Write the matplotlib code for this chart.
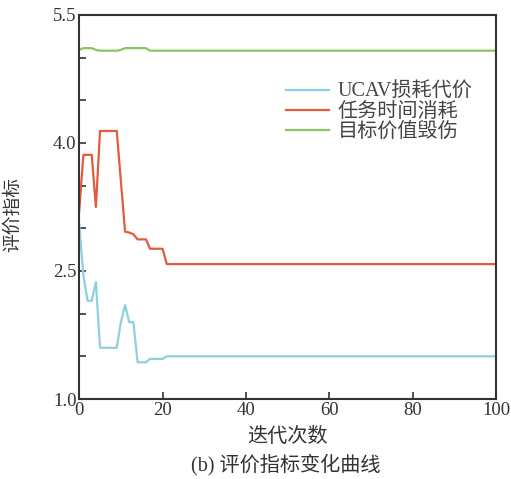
import matplotlib
matplotlib.use("Agg")
import matplotlib.pyplot as plt
import numpy as np

plt.rcParams['font.family'] = ['Liberation Serif', 'Noto Sans CJK SC']

iters = list(range(0, 101))
# UCAV loss cost (blue)
blue_head = [3.05, 2.45, 2.15, 2.15, 2.37, 1.60, 1.60, 1.60, 1.60, 1.60,
             1.90, 2.10, 1.90, 1.90, 1.43, 1.43, 1.43, 1.47, 1.47, 1.47, 1.47]
blue_tail_value = 1.50
# mission time consumption (red)
red_head = [3.20, 3.86, 3.86, 3.86, 3.25, 4.14, 4.14, 4.14, 4.14, 4.14,
            3.55, 2.96, 2.95, 2.93, 2.87, 2.87, 2.87, 2.76, 2.76, 2.76, 2.76]
red_tail_value = 2.58
# target value destruction (green)
green_head = [5.09, 5.11, 5.11, 5.11, 5.09, 5.08, 5.08, 5.08, 5.08, 5.08,
              5.09, 5.11, 5.11, 5.11, 5.11, 5.11, 5.11, 5.08, 5.08, 5.08, 5.08]
green_tail_value = 5.08

labels = ['UCAV损耗代价', '任务时间消耗', '目标价值毁伤']
xticks = [0, 20, 40, 60, 80, 100]
yticks = [1.0, 1.5, 2.0, 2.5, 3.0, 3.5, 4.0, 4.5, 5.0, 5.5]
ylabels = ['1.0', '', '', '2.5', '', '', '4.0', '', '', '5.5']

n_tail = len(iters) - len(blue_head)
blue = blue_head + [blue_tail_value] * n_tail
red = red_head + [red_tail_value] * n_tail
green = green_head + [green_tail_value] * n_tail

fig = plt.figure(figsize=(5.11, 4.79), dpi=100)
ax = fig.add_axes([0.155, 0.167, 0.816, 0.802])

ax.plot(iters, blue, color='#8fd0e0', lw=1.6, label=labels[0])
ax.plot(iters, red, color='#e35a3c', lw=1.6, label=labels[1])
ax.plot(iters, green, color='#8cc55e', lw=1.6, label=labels[2])

ax.set_xlim(0, 100)
ax.set_ylim(1.0, 5.5)
ax.set_xticks(xticks)
ax.set_yticks(yticks)
ax.set_yticklabels(ylabels)
ax.tick_params(direction='in', length=5, width=1.2, labelsize=13.5, colors='#333333', pad=2)
for s in ax.spines.values():
    s.set_color('#3a3030')
    s.set_linewidth(1.5)

ax.set_xlabel('迭代次数', fontsize=14.5, color='#333333')
ax.xaxis.set_label_coords(0.5, -0.099)
ax.xaxis.label.set_va('center')
ax.set_ylabel('评价指标', fontsize=13.5, color='#333333')
ax.yaxis.set_label_coords(-0.158, 0.48)
ax.yaxis.label.set_va('center')

leg = ax.legend(loc='upper left', bbox_to_anchor=(0.497, 0.824), frameon=False,
                fontsize=14.5, handlelength=2.1, handletextpad=0.45,
                labelspacing=0.05, borderaxespad=0.0, borderpad=0.0)
for t in leg.get_texts():
    t.set_color('#444444')

fig.text(0.56, 0.029, '(b) 评价指标变化曲线', ha='center', va='center',
         fontsize=14.5, color='#333333')

fig.savefig('out.png', dpi=100)
